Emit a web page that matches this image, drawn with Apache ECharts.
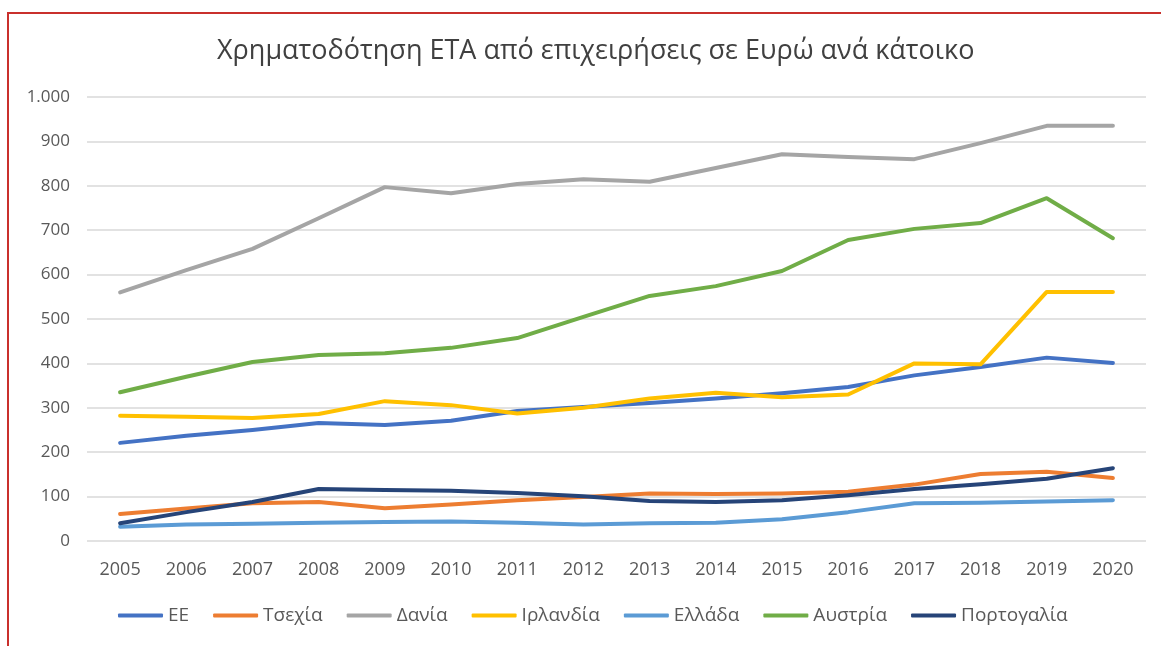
<!DOCTYPE html>
<html>
<head>
<meta charset="utf-8">
<script src="https://cdn.jsdelivr.net/npm/echarts@6/dist/echarts.min.js"></script>
<style>
html, body { margin: 0; padding: 0; background: #fff; }
#chart { width: 1161px; height: 646px; }
</style>
</head>
<body>
<div id="chart"></div>
<script>
const years = ['2005','2006','2007','2008','2009','2010','2011','2012','2013','2014','2015','2016','2017','2018','2019','2020'];

const ee       = [221, 237, 250, 266, 261, 271, 293, 302, 311, 321, 333, 347, 373, 392, 413, 401];
const czech    = [61, 73, 85, 88, 74, 82, 92, 99, 107, 106, 107, 111, 127, 151, 156, 142];
const denmark  = [560, 610, 658, 727, 797, 783, 804, 815, 809, 840, 871, 865, 860, 896, 935, 935];
const ireland  = [282, 280, 277, 286, 315, 306, 287, 300, 321, 334, 324, 330, 400, 398, 561, 561];
const greece   = [32, 37, 39, 41, 43, 44, 41, 37, 40, 41, 49, 65, 85, 86, 89, 92];
const austria  = [335, 370, 403, 419, 423, 435, 457, 505, 552, 574, 608, 678, 703, 716, 772, 682];
const portugal = [40, 65, 88, 117, 115, 113, 108, 101, 90, 88, 92, 103, 117, 128, 140, 164];

const names  = ['ΕΕ', 'Τσεχία', 'Δανία', 'Ιρλανδία', 'Ελλάδα', 'Αυστρία', 'Πορτογαλία'];
const values = [ee, czech, denmark, ireland, greece, austria, portugal];
const colors = ['#4472C4', '#ED7D31', '#A5A5A5', '#FFC000', '#5B9BD5', '#70AD47', '#264478'];

const font = '"Open Sans", "Noto Sans", sans-serif';

const chart = echarts.init(document.getElementById('chart'));

const series = names.map(function (n, i) {
    return {
        name: n,
        type: 'line',
        data: values[i],
        showSymbol: false,
        symbol: 'none',
        color: colors[i],
        lineStyle: { color: colors[i], width: 4, cap: 'round', join: 'round' },
        animation: false
    };
});

const option = {
    backgroundColor: '#fff',
    title: {
        text: 'Χρηματοδότηση ΕΤΑ από επιχειρήσεις σε Ευρώ ανά κάτοικο',
        left: 212,
        top: 33,
        textStyle: { fontFamily: font, fontSize: 27, fontWeight: 'normal', color: '#404040' }
    },
    graphic: [{
        type: 'rect',
        shape: { x: 8, y: 13, width: 1170, height: 660 },
        style: { fill: 'none', stroke: '#C9302C', lineWidth: 2 },
        silent: true
    }],
    grid: { left: 87, right: 15, top: 97, bottom: 105 },
    legend: {
        bottom: 16,
        left: 113,
        icon: 'roundRect',
        itemWidth: 45,
        itemHeight: 4,
        itemGap: 24,
        textStyle: { fontFamily: font, fontSize: 19, color: '#595959' },
        data: names
    },
    xAxis: {
        type: 'category',
        data: years,
        boundaryGap: true,
        axisLine: { show: false },
        axisTick: { show: false },
        axisLabel: { fontFamily: font, fontSize: 18, color: '#595959', margin: 20 }
    },
    yAxis: {
        type: 'value',
        min: 0,
        max: 1000,
        interval: 100,
        axisLine: { show: false },
        axisTick: { show: false },
        splitLine: { lineStyle: { color: '#D9D9D9', width: 1.5 } },
        axisLabel: {
            fontFamily: font,
            fontSize: 17,
            color: '#595959',
            margin: 17,
            formatter: function (v) { return v >= 1000 ? '1.000' : String(v); }
        }
    },
    series: series
};

chart.setOption(option);
</script>
</body>
</html>
